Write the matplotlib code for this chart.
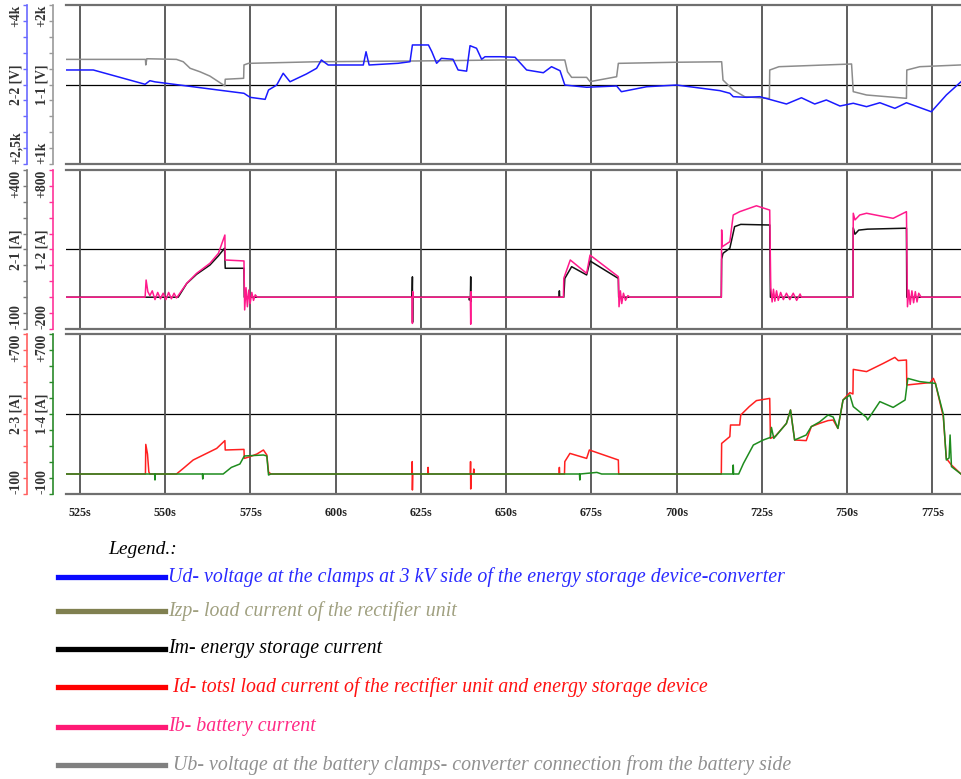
import numpy as np
import matplotlib
matplotlib.use("Agg")
import matplotlib.pyplot as plt
from matplotlib.lines import Line2D

plt.rcParams['font.family'] = ['Liberation Serif', 'DejaVu Serif']

# time axis
time_ticks = [525, 550, 575, 600, 625, 650, 675, 700, 725, 750, 775]
time_labels = [f"{t}s" for t in time_ticks]
t_min, t_max = 520.9, 783.4

# panel 1 - Ud (2-2 [V]) and Ub (1-1 [V])
ud_t = [520.9, 528.9, 544.1, 545.5, 547.0, 567.0, 573.1, 574.9, 579.3, 580.3, 582.7, 584.6, 586.6, 591.4, 594.4,
        595.8, 597.8, 608.1, 608.9, 609.8, 618.3, 621.8, 622.5, 627.2, 628.2, 629.6, 631.0, 634.4, 635.9, 638.4,
        639.4, 641.3, 642.8, 643.8, 648.2, 652.6, 656.0, 660.9, 663.3, 665.8, 667.2, 673.6, 682.4, 683.8, 691.2,
        700.0, 712.7, 715.6, 716.6, 720.5, 724.4, 732.2, 736.6, 740.5, 743.9, 747.9, 751.8, 755.7, 759.6, 764.0,
        767.4, 774.7, 779.1, 783.4]
ud_v = [3387, 3387, 3252, 3286, 3275, 3192, 3167, 3129, 3110, 3198, 3245, 3356, 3276, 3349, 3403,
        3481, 3434, 3434, 3559, 3434, 3450, 3465, 3623, 3623, 3559, 3450, 3497, 3488, 3387, 3376,
        3616, 3592, 3488, 3512, 3512, 3507, 3387, 3361, 3418, 3380, 3245, 3224, 3236, 3182, 3229,
        3245, 3192, 3167, 3135, 3129, 3135, 3066, 3125, 3066, 3104, 3047, 3073, 3041, 3078, 3025,
        3078, 2993, 3151, 3276]
ub_t = [520.9, 544.2, 544.3, 544.6, 553.3, 555.3, 557.3, 560.2, 563.1, 567.5, 567.6, 573.0, 573.1, 574.4,
        594.4, 623.7, 648.2, 667.2, 668.0, 669.2, 673.6, 674.6, 682.4, 682.9, 700.0, 713.2, 713.6, 716.6,
        720.0, 726.4, 727.2, 727.3, 730.0, 751.3, 751.8, 755.7, 767.4, 767.5, 771.3, 783.4]
ub_v = [1658, 1658, 1623, 1662, 1658, 1643, 1602, 1580, 1553, 1491, 1533, 1539, 1623, 1633,
        1643, 1648, 1654, 1654, 1580, 1545, 1545, 1518, 1549, 1633, 1640, 1643, 1528, 1465,
        1423, 1413, 1413, 1591, 1612, 1629, 1455, 1434, 1413, 1591, 1612, 1623]

# panel 2 - Im (2-1 [A]) and Ib (1-2 [A])
im_t = [520.9, 553.8, 556.3, 559.2, 563.1, 565.6, 567.4, 567.6, 573.1, 573.2, 622.4, 622.5, 622.55, 622.6,
        639.1, 639.2, 639.5, 639.6, 639.65, 639.7, 665.5, 665.6, 665.7, 666.9, 667.2, 669.2, 673.6, 674.6,
        682.9, 683.0, 713.1, 713.2, 713.6, 715.6, 717.0, 718.8, 727.3, 727.5, 751.7, 751.8, 752.3, 753.4,
        756.0, 767.4, 767.5, 783.4]
im_v = [0, 0, 43, 72, 101, 130, 154, 91, 91, 0, 0, 64, -79, 0,
        0, -9, 0, 64, -14, 0, 0, 20, 0, 0, 59, 96, 70, 114,
        59, 0, 0, 120, 138, 154, 222, 229, 227, 0, 0, 218, 198, 211,
        214, 217, 0, 0]
ib_t = [520.9, 544.1, 544.4, 544.9, 545.5, 546.2, 547.0, 547.8, 548.6, 549.4, 550.2, 551.0, 551.8, 552.6,
        553.3, 553.8, 556.3, 559.2, 563.1, 565.6, 567.5, 567.6, 573.1, 573.3, 573.7, 574.1, 574.5, 574.9,
        575.4, 575.9, 576.4, 577.0, 622.4, 622.5, 622.6, 622.7, 639.5, 639.6, 639.7, 639.8, 666.8, 666.9,
        668.8, 673.6, 674.6, 682.9, 683.1, 683.5, 683.9, 684.4, 685.0, 685.7, 686.3, 713.1, 713.2, 713.4,
        715.6, 716.6, 718.5, 723.4, 727.3, 727.6, 728.0, 728.4, 728.8, 729.3, 729.8, 730.5, 731.3, 732.2,
        733.2, 734.2, 735.2, 736.2, 736.6, 751.7, 751.8, 752.3, 753.7, 755.7, 760.0, 763.5, 767.4, 767.7,
        768.1, 768.5, 769.0, 769.5, 770.0, 770.5, 771.0, 771.7, 783.4]
ib_v = [0, 0, 108, 35, 10, 40, -15, 30, -10, 25, -15, 30, -10, 25,
        -5, 10, 87, 150, 213, 276, 391, 234, 228, -80, 60, -60, 45, -40,
        30, -20, 15, 0, 0, -165, 35, 0, 0, -170, 35, 0, 0, 119,
        234, 150, 265, 129, -60, 40, -40, 25, -20, 10, 0, 0, 423, 318,
        349, 517, 538, 575, 548, 60, -30, 50, -25, 40, -20, 30, -15, 25,
        -15, 25, -20, 20, 0, 0, 528, 486, 517, 528, 510, 496, 538, -60,
        45, -45, 40, -35, 35, -30, 25, 0, 0]

# panel 3 - Id (2-3 [A]) and Izp (1-4 [A])
id_t = [520.9, 544.2, 544.3, 544.8, 545.2, 545.5, 553.3, 555.3, 558.2, 565.1, 567.5, 567.6, 573.1, 573.2,
        574.9, 576.9, 578.8, 579.8, 580.3, 581.0, 622.4, 622.45, 622.5, 622.6, 627.0, 627.1, 627.2, 639.5,
        639.55, 639.6, 639.7, 640.4, 640.5, 640.6, 665.5, 665.6, 665.7, 667.1, 667.2, 668.7, 673.6, 674.4,
        682.9, 683.0, 713.1, 713.2, 715.6, 715.8, 718.5, 718.8, 721.3, 723.4, 727.3, 727.5, 729.0, 732.2,
        733.4, 734.6, 738.0, 739.5, 741.9, 744.4, 745.9, 747.3, 748.8, 750.8, 751.7, 751.8, 755.7, 760.6,
        764.0, 765.0, 767.4, 767.5, 774.3, 775.3, 775.9, 778.2, 779.1, 780.6, 783.4]
id_v = [0, 0, 148, 100, 10, 0, 0, 28, 70, 128, 167, 120, 123, 78,
        87, 100, 120, 95, 10, 0, 0, 62, -80, 0, 0, 33, 0, 0,
        62, -75, 0, 0, 25, 0, 0, 33, 0, 0, 62, 103, 78, 120,
        70, 0, 0, 153, 187, 245, 245, 295, 337, 367, 378, 178, 190, 253,
        320, 170, 167, 237, 253, 267, 270, 228, 370, 407, 400, 523, 512, 553,
        583, 567, 570, 445, 457, 478, 453, 287, 78, 45, 0]
izp_t = [520.9, 546.9, 547.0, 547.1, 560.9, 561.0, 561.1, 567.0, 569.4, 571.9, 573.2, 578.8, 579.8, 580.3,
         581.0, 671.5, 671.6, 671.7, 676.6, 678.0, 716.5, 716.6, 716.7, 718.2, 719.6, 722.5, 725.4, 727.5,
         727.8, 728.5, 732.2, 733.4, 734.6, 738.0, 739.5, 741.9, 744.4, 745.9, 747.3, 748.8, 750.8, 751.8,
         755.7, 756.0, 759.6, 763.5, 767.0, 767.8, 771.3, 775.9, 778.2, 779.1, 779.9, 780.2, 780.6, 783.4]
izp_v = [0, 0, -30, 0, 0, -25, 0, 0, 33, 50, 90, 95, 90, -5,
         0, 0, -30, 0, 8, 0, 0, 45, 0, 0, 53, 145, 170, 183,
         233, 178, 253, 320, 170, 195, 237, 260, 295, 285, 228, 370, 395, 337,
         283, 270, 362, 333, 370, 478, 462, 453, 300, 70, 80, 195, 37, 0]

# y scales: (low, high) and the three labels (bottom, name, top)
ud_range, ud_names = (2500, 4000), ("+2,5k", "2-2 [V]", "+4k")
ub_range, ub_names = (1000, 2000), ("+1k", "1-1 [V]", "+2k")
im_range, im_names = (-100, 400), ("-100", "2-1 [A]", "+400")
ib_range, ib_names = (-200, 800), ("-200", "1-2 [A]", "+800")
id_range, id_names = (-100, 700), ("-100", "2-3 [A]", "+700")
izp_range, izp_names = (-100, 700), ("-100", "1-4 [A]", "+700")

legend_labels = [
    "Ud- voltage at the clamps at 3 kV side of the energy storage device-converter",
    "Izp- load current of the rectifier unit",
    "Im- energy storage current",
    " Id- totsl load current of the rectifier unit and energy storage device",
    "Ib- battery current",
    " Ub- voltage at the battery clamps- converter connection from the battery side",
]
legend_line_colors = ["#0a0aff", "#808050", "#000000", "#ff0000", "#ff1a75", "#808080"]
legend_text_colors = ["#2a2aff", "#a0a080", "#000000", "#ff1010", "#ff2a85", "#909090"]

W, H = 961, 779


def px_rect(x0, y0, x1, y1):
    return [x0 / W, 1 - y1 / H, (x1 - x0) / W, (y1 - y0) / H]


def style_scale(ax, rng, names, color, offset):
    ticks = np.linspace(rng[0], rng[1], 11)
    labels = [""] * 11
    labels[0], labels[5], labels[10] = names
    ax.set_yticks(ticks, labels)
    ax.set_ylim(*rng)
    ax.yaxis.set_ticks_position("left")
    sp = ax.spines["left"]
    sp.set_visible(True)
    sp.set_position(("outward", offset))
    sp.set_color(color)
    sp.set_linewidth(1.2)
    ax.tick_params(axis="y", color=color, labelcolor="#333333", direction="out",
                   length=3, width=1, pad=0.3, labelsize=9.8, labelrotation=90)
    lbls = ax.get_yticklabels()
    for lab, va in zip([lbls[0], lbls[5], lbls[10]], ["bottom", "center", "top"]):
        lab.set_va(va)
        lab.set_fontweight("bold")


def make_panel(fig, rect, low, high, show_x):
    # low / high: (t, v, colour, range, names, spine colour, inner scale?)
    ax = fig.add_axes(rect)
    top = ax.twinx()
    for a, spec in ((ax, low), (top, high)):
        t, v, c, rng, names, sc, inner = spec
        a.plot(t, v, color=c, lw=1.1)
        style_scale(a, rng, names, sc, 9.4 if inner else 28.1)
        a.spines["right"].set_visible(False)
    for s in ("top", "bottom"):
        top.spines[s].set_visible(False)
        ax.spines[s].set_color("#6f6f6f")
        ax.spines[s].set_linewidth(1.6)
    ax.set_xticks(time_ticks)
    ax.set_xticks(np.arange(525, 784, 5), minor=True)
    ax.set_xlim(t_min, t_max)
    ax.grid(axis="x", color="#505050", lw=1.3)
    ax.set_axisbelow(True)
    rng = low[3]
    ax.axhline((rng[0] + rng[1]) / 2, color="black", lw=0.9, zorder=0.5)
    ax.tick_params(axis="x", length=0, pad=9)
    ax.tick_params(axis="x", which="minor", top=True, bottom=False, direction="inout",
                   color="white", length=2.2, width=1.2)
    if show_x:
        ax.set_xticklabels(time_labels, fontsize=8.7, fontweight="bold", color="#222222")
    else:
        ax.set_xticklabels([])
    return ax


def draw_legend(fig):
    fig.text(108 / W, 1 - 549 / H, "Legend.:", fontsize=14, style="italic", va="center", color="black")
    ys = [577, 611, 649, 687, 727, 765]
    for y, lab, lc, tc in zip(ys, legend_labels, legend_line_colors, legend_text_colors):
        fig.add_artist(Line2D([58 / W, 165 / W], [1 - y / H, 1 - y / H], color=lc, lw=3.8,
                              transform=fig.transFigure))
        fig.text(168 / W, 1 - y / H, lab, fontsize=14.3, style="italic", va="center", color=tc)


def main():
    fig = plt.figure(figsize=(W / 100, H / 100), dpi=100)
    make_panel(fig, px_rect(66, 5, 961, 164),
               (ub_t, ub_v, "#8c8c8c", ub_range, ub_names, "#9a9a9a", True),
               (ud_t, ud_v, "#1a1aff", ud_range, ud_names, "#6a6aff", False), False)
    make_panel(fig, px_rect(66, 170, 961, 329),
               (im_t, im_v, "#111111", im_range, im_names, "#7a7a7a", False),
               (ib_t, ib_v, "#ff1a8c", ib_range, ib_names, "#ff3399", True), False)
    make_panel(fig, px_rect(66, 334, 961, 494),
               (id_t, id_v, "#ff2020", id_range, id_names, "#ff6060", False),
               (izp_t, izp_v, "#1e8c1e", izp_range, izp_names, "#2a8a2a", True), True)
    draw_legend(fig)
    fig.savefig("out.png", dpi=100)


main()
